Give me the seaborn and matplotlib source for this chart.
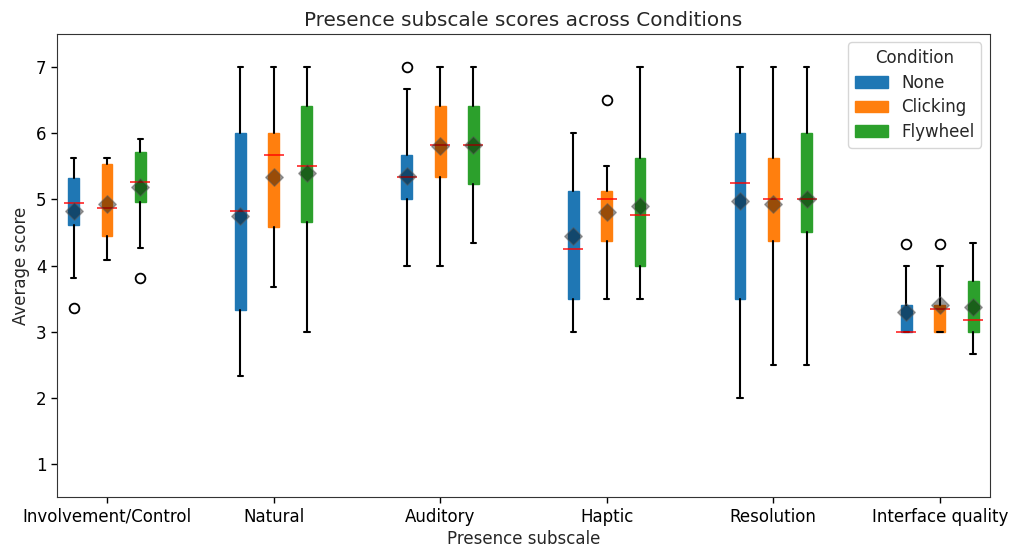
import matplotlib
matplotlib.use("Agg")
import matplotlib.pyplot as plt
import matplotlib.patches as mpatches
import numpy as np
import seaborn as sns

# Presence questionnaire subscales and experimental conditions
subscales = ["Involvement/Control", "Natural", "Auditory", "Haptic",
             "Resolution", "Interface quality"]
conditions = ["None", "Clicking", "Flywheel"]

# Per-condition box statistics, one value per subscale
none_whislo = [3.81, 2.33, 4.00, 3.00, 2.00, 3.00]
none_q1     = [4.61, 3.33, 5.00, 3.50, 3.50, 3.00]
none_med    = [4.95, 4.83, 5.34, 4.25, 5.25, 3.00]
none_q3     = [5.32, 6.00, 5.67, 5.12, 6.00, 3.41]
none_whishi = [5.63, 7.00, 6.67, 6.00, 7.00, 4.00]
none_mean   = [4.83, 4.75, 5.36, 4.45, 4.97, 3.30]
none_fliers = [[3.36], [], [7.00], [], [], [4.33]]

click_whislo = [4.09, 3.67, 4.00, 3.50, 2.50, 3.00]
click_q1     = [4.44, 4.59, 5.34, 4.37, 4.37, 3.00]
click_med    = [4.87, 5.67, 5.82, 5.00, 5.00, 3.34]
click_q3     = [5.54, 6.00, 6.41, 5.12, 5.63, 3.40]
click_whishi = [5.63, 7.00, 7.00, 5.50, 7.00, 4.00]
click_mean   = [4.93, 5.34, 5.80, 4.81, 4.93, 3.40]
click_fliers = [[], [], [], [6.50], [], [4.33]]

fly_whislo = [4.26, 3.00, 4.34, 3.50, 2.50, 2.67]
fly_q1     = [4.96, 4.66, 5.24, 4.00, 4.50, 3.00]
fly_med    = [5.27, 5.50, 5.82, 4.76, 5.00, 3.18]
fly_q3     = [5.72, 6.41, 6.41, 5.63, 6.00, 3.76]
fly_whishi = [5.91, 7.00, 7.00, 7.00, 7.00, 4.34]
fly_mean   = [5.19, 5.40, 5.82, 4.90, 5.00, 3.38]
fly_fliers = [[3.81], [], [], [], [], []]

series = [
    (none_whislo, none_q1, none_med, none_q3, none_whishi, none_mean, none_fliers),
    (click_whislo, click_q1, click_med, click_q3, click_whishi, click_mean, click_fliers),
    (fly_whislo, fly_q1, fly_med, fly_q3, fly_whishi, fly_mean, fly_fliers),
]

palette = sns.color_palette("tab10", n_colors=3)
sns.set_style("white")
plt.rcParams["font.family"] = ["DejaVu Sans"]

fig, ax = plt.subplots(figsize=(10.11, 5.53), dpi=100)
fig.subplots_adjust(left=0.0564, right=0.979, top=0.9385, bottom=0.101)

base = np.arange(len(subscales))
offsets = [-0.2, 0.0, 0.2]
box_w = 0.065
med_half = 0.06

for (wlo, q1, med, q3, whi, mean, fl), off, col in zip(series, offsets, palette):
    stats = [
        dict(whislo=wlo[i], q1=q1[i], med=med[i], q3=q3[i], whishi=whi[i],
             mean=mean[i], fliers=fl[i])
        for i in range(len(subscales))
    ]
    pos = base + off
    ax.bxp(stats, positions=pos, widths=box_w, patch_artist=True,
           showmeans=False, manage_ticks=False,
           boxprops=dict(facecolor=col, edgecolor=col, linewidth=1),
           whiskerprops=dict(color="black", linewidth=1.5),
           capprops=dict(color="black", linewidth=1.5),
           capwidths=box_w * 0.5,
           medianprops=dict(visible=False),
           flierprops=dict(marker="o", markerfacecolor="none",
                           markeredgecolor="black", markersize=7,
                           markeredgewidth=1.3))
    ax.hlines(med, pos - med_half, pos + med_half, color="red",
              linewidth=1.2, alpha=0.85, zorder=3)
    ax.scatter(pos, mean, marker="D", s=80, facecolor=(0, 0, 0, 0.4),
               edgecolor=(0.35, 0.35, 0.35, 0.5), linewidth=1, zorder=4)

for s in ax.spines.values():
    s.set_visible(True)
    s.set_color("#333333")

ax.set_xlim(-0.3, 5.3)
ax.set_ylim(0.5, 7.5)
ax.set_xticks(base)
ax.set_xticklabels(subscales, fontsize=12)
ax.set_yticks(range(1, 8))
ax.tick_params(axis="both", direction="out", length=4, width=1,
               colors="black", labelsize=12, left=True, bottom=True)
ax.set_xlabel("Presence subscale", fontsize=12, labelpad=3)
ax.set_ylabel("Average score", fontsize=12)
ax.set_title("Presence subscale scores across Conditions", fontsize=14.4)

handles = [mpatches.Patch(facecolor=c, edgecolor=c, label=n)
           for c, n in zip(palette, conditions)]
ax.legend(handles=handles, title="Condition", loc="upper right",
          fontsize=12, title_fontsize=12, labelspacing=0.4)

fig.savefig("out.png", dpi=100)
